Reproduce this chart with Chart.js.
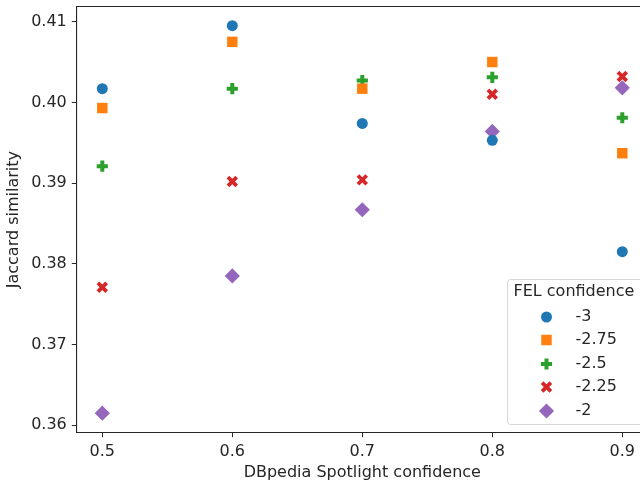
<!DOCTYPE html>
<html>
<head>
<meta charset="utf-8">
<script src="https://cdn.jsdelivr.net/npm/chart.js@4/dist/chart.umd.min.js"></script>
<style>
  html, body { margin: 0; padding: 0; background: #fff; overflow: hidden; }
  #wrap { width: 662px; height: 482px; }
</style>
</head>
<body>
<div id="wrap"><canvas id="c" width="662" height="482"></canvas></div>
<script>
// ---- data ----
const xValues = [0.5, 0.6, 0.7, 0.8, 0.9];
const seriesLabels = ['-3', '-2.75', '-2.5', '-2.25', '-2'];
const s_m3    = [0.4017, 0.4095, 0.3974, 0.3953, 0.3815];
const s_m275  = [0.3993, 0.4075, 0.4017, 0.4050, 0.3937];
const s_m25   = [0.3921, 0.4017, 0.4027, 0.4031, 0.3981];
const s_m225  = [0.3771, 0.3902, 0.3904, 0.4010, 0.4032];
const s_m2    = [0.3615, 0.3785, 0.3867, 0.3964, 0.4018];
const xTicks = [0.5, 0.6, 0.7, 0.8, 0.9];
const yTicks = [0.36, 0.37, 0.38, 0.39, 0.40, 0.41];

const seriesValues = [s_m3, s_m275, s_m25, s_m225, s_m2];
const colors = ['#1f77b4', '#ff7f0e', '#2ca02c', '#d62728', '#9467bd'];
const styles = [
  {pointStyle: 'circle', radius: 5.5, borderWidth: 0},
  {pointStyle: 'rect', radius: 7.4, borderWidth: 0},
  {pointStyle: 'cross', radius: 5.6, borderWidth: 4},
  {pointStyle: 'crossRot', radius: 6.2, borderWidth: 3.8},
  {pointStyle: 'rectRot', radius: 7.6, borderWidth: 0}
];
const textColor = '#262626';
const fontFamily = '"DejaVu Sans", sans-serif';
const fontSize = 16;

const datasets = seriesValues.map((vals, i) => ({
  label: seriesLabels[i],
  data: xValues.map((x, j) => ({x: x, y: vals[j]})),
  showLine: false,
  clip: false,
  pointStyle: styles[i].pointStyle,
  pointRadius: styles[i].radius,
  pointBorderWidth: styles[i].borderWidth,
  pointBackgroundColor: colors[i],
  pointBorderColor: colors[i]
}));

const framePlugin = {
  id: 'frame',
  afterDraw(chart) {
    const {ctx, chartArea: a} = chart;
    ctx.save();
    ctx.strokeStyle = textColor;
    ctx.lineWidth = 1.1;
    ctx.beginPath();
    ctx.moveTo(a.left, a.top); ctx.lineTo(a.right, a.top);
    ctx.lineTo(a.right, a.bottom);
    ctx.stroke();
    ctx.restore();

    // legend
    const lx = 507, ly = 279, lw = 150, lh = 145;
    ctx.save();
    ctx.globalAlpha = 0.8;
    ctx.fillStyle = '#ffffff';
    ctx.strokeStyle = '#cccccc';
    ctx.lineWidth = 1;
    ctx.beginPath();
    ctx.roundRect(lx + 0.5, ly + 0.5, lw, lh, 3);
    ctx.fill();
    ctx.stroke();
    ctx.globalAlpha = 1;
    ctx.fillStyle = textColor;
    ctx.font = fontSize + 'px ' + fontFamily;
    ctx.textBaseline = 'middle';
    ctx.textAlign = 'left';
    ctx.fillText('FEL confidence', 513.5, 292);
    const rowY = [317, 340, 364, 387, 411];
    chart.data.datasets.forEach((ds, i) => {
      ctx.fillStyle = colors[i];
      ctx.strokeStyle = colors[i];
      ctx.lineWidth = styles[i].borderWidth;
      Chart.helpers.drawPoint(ctx, {
        pointStyle: styles[i].pointStyle,
        radius: styles[i].radius,
        rotation: 0,
        borderWidth: styles[i].borderWidth
      }, 546.5, rowY[i]);
      ctx.fillStyle = textColor;
      ctx.fillText(ds.label, 575.5, rowY[i]);
    });
    ctx.restore();
  }
};

new Chart(document.getElementById('c'), {
  type: 'scatter',
  data: {datasets},
  plugins: [framePlugin],
  options: {
    responsive: false,
    animation: false,
    events: [],
    layout: {autoPadding: false, padding: {top: 6.5, right: 13.7, left: 0, bottom: 0}},
    plugins: {legend: {display: false}, tooltip: {enabled: false}},
    scales: {
      x: {
        type: 'linear', min: 0.48, max: 0.92,
        afterBuildTicks: s => { s.ticks = xTicks.map(v => ({value: v})); },
        afterFit: s => { s.height = 49.3; s.paddingLeft = 0; s.paddingRight = 0; },
        grid: {drawOnChartArea: false, drawTicks: true, tickLength: 4.5, tickColor: textColor, tickWidth: 1},
        border: {display: true, color: textColor, width: 1.1},
        ticks: {color: textColor, font: {family: fontFamily, size: fontSize}, padding: 5,
                callback: v => Number(v).toFixed(1), maxRotation: 0},
        title: {display: true, text: 'DBpedia Spotlight confidence', color: textColor,
                font: {family: fontFamily, size: fontSize}, padding: {top: 0, bottom: 0}}
      },
      y: {
        type: 'linear', min: 0.35908, max: 0.41188,
        afterBuildTicks: s => { s.ticks = yTicks.map(v => ({value: v})); },
        afterFit: s => { s.width = 76.3; s.paddingTop = 0; s.paddingBottom = 0; },
        grid: {drawOnChartArea: false, drawTicks: true, tickLength: 4.5, tickColor: textColor, tickWidth: 1},
        border: {display: true, color: textColor, width: 1.1},
        ticks: {color: textColor, font: {family: fontFamily, size: fontSize}, padding: 5,
                callback: v => Number(v).toFixed(2)},
        title: {display: true, text: 'Jaccard similarity', color: textColor,
                font: {family: fontFamily, size: fontSize}, padding: {top: 4.4, bottom: 0}}
      }
    }
  }
});
</script>
</body>
</html>
